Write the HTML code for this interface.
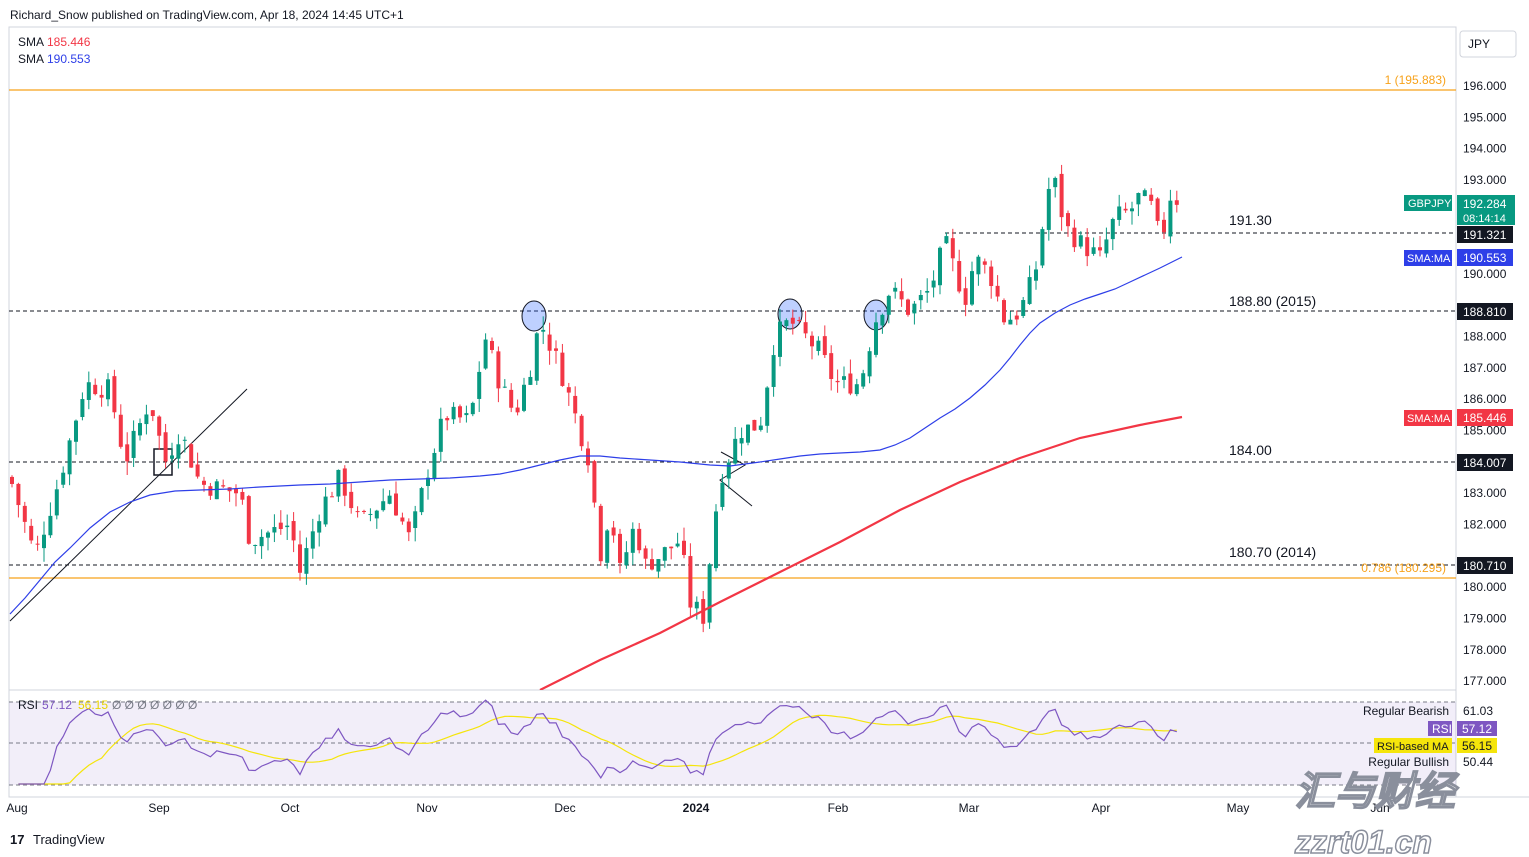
<!DOCTYPE html>
<html><head><meta charset="utf-8">
<style>
body{margin:0;background:#fff;font-family:"Liberation Sans",sans-serif;}
#w{position:relative;width:1529px;height:857px;overflow:hidden;background:#fff}
svg text{font-family:"Liberation Sans",sans-serif}
</style></head><body><div id="w">
<svg id="s" width="1529" height="857" xmlns="http://www.w3.org/2000/svg">
<defs><clipPath id="cp"><rect x="9" y="27" width="1447" height="663"/></clipPath></defs>
<rect x="0" y="0" width="1529" height="857" fill="#fff"/>
<text x="10" y="19" font-size="12" fill="#131722">Richard_Snow published on TradingView.com, Apr 18, 2024 14:45 UTC+1</text>
<rect x="9" y="27" width="1447" height="770" fill="none" stroke="#d1d4dc" stroke-width="1"/>
<line x1="9" y1="690" x2="1456" y2="690" stroke="#d1d4dc"/>
<line x1="9" y1="797" x2="1529" y2="797" stroke="#d1d4dc"/>
<line x1="1456" y1="27" x2="1456" y2="797" stroke="#d1d4dc"/>
<rect x="9" y="702" width="1447" height="83" fill="#7e57c2" fill-opacity="0.1"/>
<g stroke="#787b86" stroke-dasharray="4,3" stroke-width="1">
<line x1="9" y1="702" x2="1456" y2="702"/><line x1="9" y1="743" x2="1456" y2="743"/><line x1="9" y1="785" x2="1456" y2="785"/></g>
<line x1="9" y1="90" x2="1456" y2="90" stroke="#f7a21b" stroke-width="1.2"/>
<line x1="9" y1="578" x2="1456" y2="578" stroke="#f7a21b" stroke-width="1.2"/>
<g stroke="#131722" stroke-dasharray="4,3" stroke-width="1">
<line x1="945" y1="233" x2="1456" y2="233"/>
<line x1="9" y1="311" x2="1456" y2="311"/>
<line x1="9" y1="462" x2="1456" y2="462"/>
<line x1="9" y1="565" x2="1456" y2="565"/></g>
<text x="1446" y="84" font-size="12" fill="#f7a21b" text-anchor="end">1 (195.883)</text>
<text x="1446" y="572" font-size="12" fill="#f7a21b" text-anchor="end">0.786 (180.295)</text>
<g font-size="14" fill="#131722">
<text x="1229" y="225">191.30</text><text x="1229" y="306">188.80 (2015)</text>
<text x="1229" y="455">184.00</text><text x="1229" y="557">180.70 (2014)</text></g>
<line x1="10" y1="621" x2="247" y2="389" stroke="#131722" stroke-width="1"/>
<rect x="154" y="449" width="18" height="26" fill="none" stroke="#131722" stroke-width="1.5"/>
<polyline points="721,452 745,465 720,480 752,506" fill="none" stroke="#131722"/>
<g fill="#2962ff" fill-opacity="0.3" stroke="#131722" stroke-width="1">
<ellipse cx="534" cy="316" rx="12" ry="15"/><ellipse cx="790" cy="314" rx="12" ry="15"/><ellipse cx="876" cy="315" rx="12" ry="15"/></g>
<g id="cd"></g>
<polyline fill="none" stroke="#2e3fe8" stroke-width="1.2" points="10,614 25,598 40,580 55,562 70,548 90,528 110,512 130,502 150,495 175,491 200,490 230,489 260,487 300,485 330,484 360,482 390,480 420,479 450,478 480,476 500,474 520,470 540,465 560,460 580,456 600,456 620,458 650,460 680,462 710,465 730,466 745,464 760,462 780,459 800,456 820,454 840,453 860,452 880,450 895,445 910,438 925,428 940,418 955,409 970,398 985,385 1000,370 1010,358 1020,345 1030,333 1040,323 1055,313 1070,305 1085,299 1100,294 1115,289 1130,282 1145,275 1160,268 1172,262 1182,257"/>
<polyline clip-path="url(#cp)" fill="none" stroke="#f23645" stroke-width="2.2" points="540,690 600,660 660,633 720,602 780,572 840,542 900,510 960,482 1020,458 1080,438 1140,425 1182,417"/>
<g id="rsi"></g>
<g font-size="12"><text x="18" y="46" fill="#131722">SMA</text><text x="47" y="46" fill="#f23645">185.446</text>
<text x="18" y="63" fill="#131722">SMA</text><text x="47" y="63" fill="#2e3fe8">190.553</text>
<text x="18" y="709" fill="#131722">RSI</text><text x="42" y="709" fill="#7e57c2">57.12</text><text x="78" y="709" fill="#e8d400">56.15</text>
<text x="112" y="709" fill="#787b86">Ø Ø Ø Ø Ø Ø Ø</text></g>
<rect x="1460" y="31" width="56" height="26" rx="3" fill="#fff" stroke="#d1d4dc"/>
<text x="1468" y="48" font-size="12" fill="#131722">JPY</text>
<g id="ax" font-size="12" fill="#131722"></g>
<g font-size="12">
<rect x="1404" y="195" width="48" height="16" fill="#089981"/><text x="1408" y="207" fill="#fff" font-size="11">GBPJPY</text>
<rect x="1457" y="195" width="58" height="30" fill="#089981"/><text x="1463" y="208" fill="#fff">192.284</text><text x="1463" y="222" fill="#fff" font-size="11">08:14:14</text>
<rect x="1457" y="226" width="56" height="17" fill="#131722"/><text x="1463" y="239" fill="#fff">191.321</text>
<rect x="1404" y="250" width="48" height="16" fill="#2e3fe8"/><text x="1407" y="262" fill="#fff" font-size="11">SMA:MA</text>
<rect x="1457" y="249" width="56" height="17" fill="#2e3fe8"/><text x="1463" y="262" fill="#fff">190.553</text>
<rect x="1457" y="303" width="56" height="17" fill="#131722"/><text x="1463" y="316" fill="#fff">188.810</text>
<rect x="1404" y="410" width="48" height="16" fill="#f23645"/><text x="1407" y="422" fill="#fff" font-size="11">SMA:MA</text>
<rect x="1457" y="409" width="56" height="17" fill="#f23645"/><text x="1463" y="422" fill="#fff">185.446</text>
<rect x="1457" y="454" width="56" height="17" fill="#131722"/><text x="1463" y="467" fill="#fff">184.007</text>
<rect x="1457" y="557" width="56" height="17" fill="#131722"/><text x="1463" y="570" fill="#fff">180.710</text>
<text x="1463" y="715" fill="#131722">61.03</text>
<text x="1449" y="715" fill="#131722" text-anchor="end">Regular Bearish</text>
<rect x="1428" y="721" width="24" height="15" fill="#7e57c2"/><text x="1432" y="733" fill="#fff">RSI</text>
<rect x="1457" y="721" width="40" height="15" fill="#7e57c2"/><text x="1462" y="733" fill="#fff">57.12</text>
<rect x="1374" y="738" width="78" height="15" fill="#f5e50b"/><text x="1377" y="750" fill="#131722" font-size="11">RSI-based MA</text>
<rect x="1457" y="738" width="40" height="15" fill="#f5e50b"/><text x="1462" y="750" fill="#131722">56.15</text>
<text x="1449" y="766" fill="#131722" text-anchor="end">Regular Bullish</text><text x="1463" y="766" fill="#131722">50.44</text>
</g>
<g font-size="12" fill="#131722" text-anchor="middle">
<text x="17" y="812">Aug</text><text x="159" y="812">Sep</text><text x="290" y="812">Oct</text><text x="427" y="812">Nov</text><text x="565" y="812">Dec</text><text x="696" y="812" font-weight="bold">2024</text><text x="838" y="812">Feb</text><text x="969" y="812">Mar</text><text x="1101" y="812">Apr</text><text x="1238" y="812">May</text><text x="1380" y="812">Jun</text></g>
<text x="10" y="844" font-size="13" fill="#131722" font-weight="bold">17</text>
<text x="33" y="844" font-size="13" fill="#131722">TradingView</text>
<text x="1295" y="805" font-size="40" font-style="italic" font-weight="bold" fill="#fff" stroke="#8a8f9c" stroke-width="1.5" font-family="'Noto Sans CJK SC',sans-serif">汇与财经</text>
<text x="1295" y="853" font-size="32" font-style="italic" font-weight="bold" fill="#fff" stroke="#8a8f9c" stroke-width="1.5">zzrt01.cn</text>
</svg>
<script>
var NS="http://www.w3.org/2000/svg";
function Y(p){return 86+(196-p)*31.32;}
function el(t,a,par){var e=document.createElementNS(NS,t);for(var k in a)e.setAttribute(k,a[k]);par.appendChild(e);return e;}
var ax=document.getElementById('ax');
for(var p=177;p<=196;p++){if([191,189,181].indexOf(p)>=0)continue;el('text',{x:1463,y:Y(p)+4},ax).textContent=p.toFixed(3);}
var K=[[10,183.5],[35,181],[60,183.5],[85,186.5],[110,186.3],[125,184],[150,186],[165,184],[180,185],[200,183.3],[240,183],[250,181.5],[290,182],[300,180.5],[320,182.5],[340,183.5],[360,182],[390,183],[410,181.5],[430,184],[445,185.5],[470,185.3],[485,188],[500,186.5],[515,185.5],[530,187],[540,188.5],[560,187],[580,185],[590,184],[600,181],[610,182.5],[620,180.5],[635,182],[645,180.7],[660,181],[680,181.5],[690,179.5],[705,179],[710,181],[720,183.5],[740,185],[760,185.2],[775,188],[790,188.5],[805,188],[820,187.5],[835,186.5],[860,186.5],[875,188.5],[890,189.5],[910,188.8],[930,189.5],[945,191],[965,189.2],[975,190.5],[990,190],[1005,188.5],[1020,188.8],[1035,190],[1045,192],[1052,193.3],[1065,191.5],[1080,191],[1100,190.5],[1115,191.8],[1130,192],[1140,192.5],[1155,192],[1160,190.8],[1170,192.5],[1182,192.3]];
function interp(x){for(var i=0;i<K.length-1;i++){if(x<=K[i+1][0]){var t=(x-K[i][0])/(K[i+1][0]-K[i][0]);return K[i][1]+t*(K[i+1][1]-K[i][1]);}}return K[K.length-1][1];}
var seed=7;function rnd(){seed=(seed*9301+49297)%233280;return seed/233280;}
var cd=document.getElementById('cd');var closes=[],xs=[];var prev=interp(10);
for(var x=12;x<=1182;x+=6.4){var c=interp(x)+(rnd()-0.5)*0.7;var o=prev+(rnd()-0.5)*0.3;
var hi=Math.max(o,c)+rnd()*0.45,lo=Math.min(o,c)-rnd()*0.45;var col=c>=o?'#089981':'#f23645';
el('line',{x1:x,x2:x,y1:Y(hi),y2:Y(lo),stroke:col,'stroke-width':1},cd);
var t=Y(Math.max(o,c)),b=Y(Math.min(o,c));el('rect',{x:x-2,y:t,width:4,height:Math.max(1,b-t),fill:col},cd);
closes.push(c);xs.push(x);prev=c;}
var rs=document.getElementById('rsi');var g=0,l=0,N=14,vals=[];
for(var i=1;i<closes.length;i++){var d=closes[i]-closes[i-1];var up=Math.max(d,0),dn=Math.max(-d,0);
if(i<=N){g+=up/N;l+=dn/N;}else{g=(g*(N-1)+up)/N;l=(l*(N-1)+dn)/N;}
var r=l==0?100:100-100/(1+g/l);vals.push([xs[i],r]);}
function RY(r){return Math.max(700,Math.min(784,743-(r-50)*1.5));}
var p1=vals.map(function(v){return v[0].toFixed(1)+','+RY(v[1]).toFixed(1)}).join(' ');
var ma=[];for(var i=0;i<vals.length;i++){var s=0,n=0;for(var j=Math.max(0,i-13);j<=i;j++){s+=vals[j][1];n++;}ma.push(vals[i][0].toFixed(1)+','+RY(s/n).toFixed(1));}
el('polyline',{points:ma.join(' '),fill:'none',stroke:'#f5e50b','stroke-width':1.2},rs);
el('polyline',{points:p1,fill:'none',stroke:'#7e57c2','stroke-width':1.2},rs);
</script>
</div></body></html>
